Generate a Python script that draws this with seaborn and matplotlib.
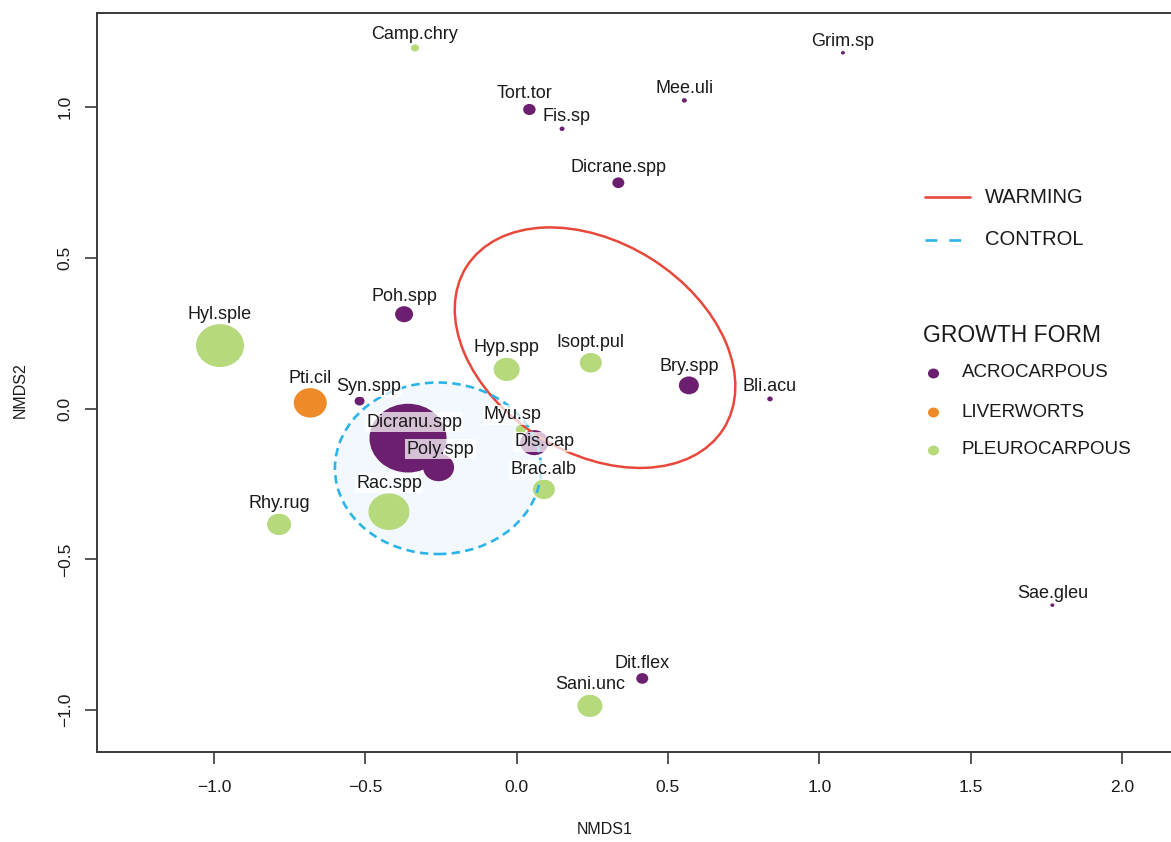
import matplotlib.pyplot as plt
import seaborn as sns
import numpy as np
import pandas as pd
from matplotlib.patches import Ellipse
from matplotlib.path import Path
from matplotlib.markers import MarkerStyle
from matplotlib.ticker import FuncFormatter

# species scores
species = ["Camp.chry", "Grim.sp", "Tort.tor", "Fis.sp", "Mee.uli", "Dicrane.spp",
           "Hyl.sple", "Poh.spp", "Hyp.spp", "Isopt.pul", "Bry.spp", "Bli.acu",
           "Pti.cil", "Syn.spp", "Dicranu.spp", "Poly.spp", "Myu.sp", "Dis.cap",
           "Brac.alb", "Rac.spp", "Rhy.rug", "Sae.gleu", "Dit.flex", "Sani.unc"]
nmds1 = [-0.336, 1.078, 0.042, 0.150, 0.554, 0.336,
         -0.980, -0.372, -0.033, 0.245, 0.569, 0.837,
         -0.682, -0.519, -0.359, -0.258, 0.014, 0.058,
         0.090, -0.422, -0.785, 1.770, 0.415, 0.242]
nmds2 = [1.196, 1.180, 0.992, 0.928, 1.022, 0.749,
         0.209, 0.313, 0.130, 0.152, 0.077, 0.032,
         0.019, 0.025, -0.098, -0.195, -0.069, -0.113,
         -0.268, -0.342, -0.384, -0.652, -0.895, -0.986]
growth_form = ["PLEUROCARPOUS", "ACROCARPOUS", "ACROCARPOUS", "ACROCARPOUS", "ACROCARPOUS", "ACROCARPOUS",
               "PLEUROCARPOUS", "ACROCARPOUS", "PLEUROCARPOUS", "PLEUROCARPOUS", "ACROCARPOUS", "ACROCARPOUS",
               "LIVERWORTS", "ACROCARPOUS", "ACROCARPOUS", "ACROCARPOUS", "PLEUROCARPOUS", "ACROCARPOUS",
               "PLEUROCARPOUS", "PLEUROCARPOUS", "PLEUROCARPOUS", "ACROCARPOUS", "ACROCARPOUS", "PLEUROCARPOUS"]
abundance = [0.64, 0.16, 1.56, 0.25, 0.25, 1.44,
             23.04, 3.24, 6.76, 4.84, 4.0, 0.30,
             10.89, 1.0, 59.3, 9.61, 1.0, 7.84,
             4.84, 16.81, 5.76, 0.16, 1.44, 6.25]

forms = ["ACROCARPOUS", "LIVERWORTS", "PLEUROCARPOUS"]
form_colors = ["#6B1F6E", "#EE8A28", "#B5D97B"]

# treatment ellipses: centre, width, height, angle
warming_ell = dict(xy=(0.259, 0.202), width=1.005, height=0.697, angle=-32.4)
control_ell = dict(xy=(-0.26, -0.198), width=0.681, height=0.569, angle=0)

df = pd.DataFrame({"species": species, "NMDS1": nmds1, "NMDS2": nmds2,
                   "form": growth_form, "abundance": abundance})

sns.set_style("white")
plt.rcParams['font.family'] = ['Liberation Sans', 'DejaVu Sans']

fig = plt.figure(figsize=(11.71, 8.42), dpi=100)
ax = fig.add_axes([97 / 1171, 1 - 752 / 842, 1074 / 1171, 739 / 842])

red = "#E8483B"
blue = "#2CB4E8"

ax.add_patch(Ellipse(**control_ell, facecolor="#F2F8FE", edgecolor="none", zorder=1))

# slightly wide bubbles like the original
circ = Path.unit_circle()
ell_marker = MarkerStyle(Path(circ.vertices * [1.0, 1 / 1.12], circ.codes))

px2 = 51.84  # abundance -> points^2
amin, amax = min(abundance), max(abundance)
sns.scatterplot(data=df, x="NMDS1", y="NMDS2", hue="form", hue_order=forms,
                palette=dict(zip(forms, form_colors)), size="abundance",
                sizes=(amin * px2, amax * px2), size_norm=(amin, amax),
                marker=ell_marker, edgecolor="none", linewidth=0,
                legend=False, ax=ax, zorder=2)

ax.add_patch(Ellipse(**warming_ell, facecolor="none", edgecolor=red, lw=1.8, zorder=3))
ax.add_patch(Ellipse(**control_ell, facecolor="none", edgecolor=blue, lw=1.9,
                     linestyle=(0, (3.2, 2.0)), zorder=3))

# labels above each bubble, a few nudged by hand (px)
nudge = {"Dicranu.spp": (6, 16), "Poly.spp": (2, 18), "Dis.cap": (10, 1),
         "Myu.sp": (-8, None), "Tort.tor": (-5, None), "Fis.sp": (4, None),
         "Syn.spp": (9, None)}
for name, x, y, a in zip(species, nmds1, nmds2, abundance):
    r = np.sqrt(a) * 10 / 2 / 1.12
    dx, dy = 0, r + 10
    if name in nudge:
        nx, ny = nudge[name]
        dx = nx
        if ny is not None:
            dy = ny
    ax.annotate(name, (x, y), xytext=(dx * 0.72, dy * 0.72), textcoords="offset points",
                ha="center", va="center", fontsize=13, color="#1a1a1a", zorder=4,
                bbox=dict(boxstyle="square,pad=0.08", fc="white", ec="none", alpha=0.72))

ax.set_xlim(-1.3866, 2.162)
ax.set_ylim(-1.139, 1.312)
ax.set_xticks([-1.0, -0.5, 0.0, 0.5, 1.0, 1.5, 2.0])
ax.set_yticks([-1.0, -0.5, 0.0, 0.5, 1.0])
fmt = FuncFormatter(lambda v, p: f"{v:.1f}".replace("-", "\u2212"))
ax.xaxis.set_major_formatter(fmt)
ax.yaxis.set_major_formatter(fmt)
ax.tick_params(direction="out", length=8.5, width=1.2, color="#3a3a3a",
               labelsize=12.5, labelcolor="#1a1a1a", left=True, bottom=True)
ax.tick_params(axis="x", pad=12)
ax.tick_params(axis="y", pad=9, labelrotation=90)
plt.setp(ax.get_yticklabels(), va="center")

for side in ["left", "bottom", "top"]:
    ax.spines[side].set_color("#3a3a3a")
    ax.spines[side].set_linewidth(1.4)
ax.spines["right"].set_visible(False)

ax.set_xlabel("NMDS1", fontsize=11.5, color="#1a1a1a")
ax.set_ylabel("NMDS2", fontsize=11.5, color="#1a1a1a")
ax.xaxis.set_label_coords(0.473, -0.1055)
ax.yaxis.set_label_coords(-0.0717, 0.49)
ax.xaxis.label.set_va("center")
ax.yaxis.label.set_va("center")

# hand-drawn legend
tr = ax.transAxes
ax.plot([0.771, 0.813], [0.751, 0.751], transform=tr, color=red, lw=1.9)
ax.plot([0.771, 0.805], [0.693, 0.693], transform=tr, color=blue, lw=1.9,
        linestyle=(0, (4.5, 4.5)))
ax.text(0.827, 0.751, "WARMING", transform=tr, fontsize=14.5, va="center", color="#1a1a1a")
ax.text(0.827, 0.693, "CONTROL", transform=tr, fontsize=14.5, va="center", color="#1a1a1a")
ax.text(0.769, 0.564, "GROWTH FORM", transform=tr, fontsize=16.5, va="center", color="#1a1a1a")
for form, col, yy in zip(forms, form_colors, [0.513, 0.460, 0.409]):
    ax.plot([0.778], [yy], transform=tr, marker=ell_marker, markersize=8,
            color=col, markeredgewidth=0, linestyle="none")
    ax.text(0.805, yy, form, transform=tr, fontsize=13.5, va="center", color="#1a1a1a")

plt.savefig("out.png", dpi=100)
